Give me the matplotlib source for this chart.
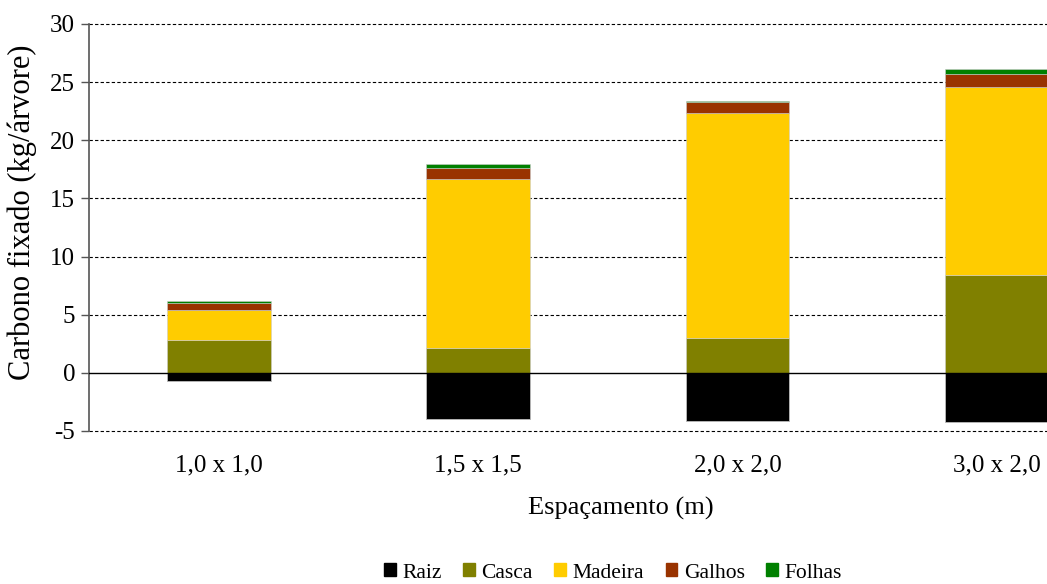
import numpy as np
import matplotlib
matplotlib.use('Agg')
import matplotlib.pyplot as plt

plt.rcParams['font.family'] = ['Liberation Serif', 'DejaVu Serif']

espacamento = ['1,0 x 1,0', '1,5 x 1,5', '2,0 x 2,0', '3,0 x 2,0']
raiz = [-0.7, -4.0, -4.15, -4.2]
casca = [2.8, 2.1, 3.0, 8.4]
madeira = [2.6, 14.6, 19.35, 16.15]
galhos = [0.6, 0.95, 0.9, 1.15]
folhas = [0.2, 0.28, 0.12, 0.4]

componentes = ['Raiz', 'Casca', 'Madeira', 'Galhos', 'Folhas']
cores = ['#000000', '#808000', '#FFCC00', '#993300', '#008000']

fig = plt.figure(figsize=(10.47, 5.84), dpi=100)
# plot area runs past the right edge of the figure
ax = fig.add_axes([0.085, 0.262, 0.991, 0.697])

x = np.arange(len(espacamento))
largura = 0.4

ax.bar(x, raiz, largura, color=cores[0], edgecolor='#bbbbbb', linewidth=0.6, zorder=3)
base = np.zeros(len(x))
for serie, cor in zip([casca, madeira, galhos, folhas], cores[1:]):
    ax.bar(x, serie, largura, bottom=base, color=cor, edgecolor='#cccccc',
           linewidth=0.4, zorder=3)
    base = base + np.array(serie)

ax.set_xlim(-0.5, 3.5)
ax.set_ylim(-5, 30)
ax.set_yticks(np.arange(-5, 31, 5))
ax.set_yticklabels(['-5', '0', '5', '10', '15', '20', '25', '30'])

for yv in [-5, 5, 10, 15, 20, 25, 30]:
    ax.axhline(yv, color='black', linewidth=0.8, linestyle=(0, (3, 2)), zorder=1,
               clip_on=False)
ax.axhline(0, color='black', linewidth=1.0, zorder=4)

for s in ['top', 'right', 'bottom']:
    ax.spines[s].set_visible(False)
ax.spines['left'].set_color('#555555')
ax.spines['left'].set_linewidth(1.2)

ax.tick_params(axis='y', direction='out', length=6, width=1, color='#555555',
               labelsize=18, pad=4)
ax.set_xticks(x)
ax.set_xticklabels(espacamento)
ax.tick_params(axis='x', length=0, labelsize=18, pad=17)

fig.text(22 / 1047, 1 - 212 / 584, 'Carbono fixado (kg/árvore)', rotation=90,
         ha='center', va='center', fontsize=22)
fig.text(621 / 1047, 1 - 508 / 584, 'Espaçamento (m)', ha='center', va='center', fontsize=19)

handles = [plt.Rectangle((0, 0), 1, 1, color=c) for c in cores]
fig.legend(handles, componentes, loc='center', bbox_to_anchor=(613 / 1047, 1 - 573 / 584),
           ncol=5, frameon=False, fontsize=15.5, handlelength=0.55, handleheight=0.55,
           handletextpad=0.3, columnspacing=1.0)

fig.savefig('out.png', dpi=100)
